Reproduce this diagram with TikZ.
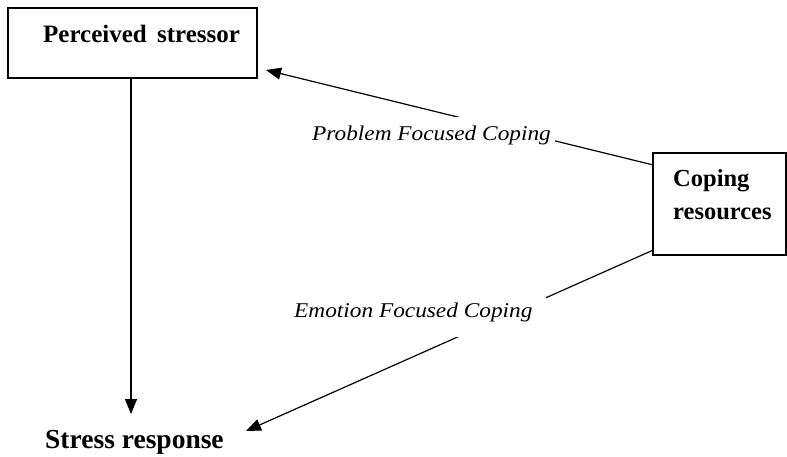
\documentclass[tikz,border=0pt]{standalone}
\usepackage{fontspec}
\setmainfont{Liberation Serif}
\newfontfamily\lblfont[FakeStretch=1.11]{Liberation Serif}
\usetikzlibrary{arrows.meta,calc}
\tikzset{
  boxshape/.style={draw,line width=1.2pt,inner sep=0pt},
  boldtxt/.style={inner sep=0pt,anchor=base west,font=\bfseries\fontsize{#1}{#1}\selectfont},
  conn/.style={line width=1.2pt,-{Triangle[length=15pt,width=12pt]}},
  lbl/.style={fill=white,inner ysep=0pt,anchor=base west,font=\lblfont\itshape\fontsize{21}{24}\selectfont}
}
\begin{document}
\begin{tikzpicture}[x=1pt,y=-1pt]
\useasboundingbox (0,0) rectangle (787,457);
% boxes
\node[boxshape,minimum width=249pt,minimum height=70pt] (ps) at (132.5,43) {};
\node[boxshape,minimum width=133pt,minimum height=102pt] (cr) at (719.5,204) {};
% texts
\node[boldtxt=25] (pst) at (43,43) {Perceived\hspace{4pt} stressor};
\node[boldtxt=24.5] (crt1) at (673,187) {Coping};
\node[boldtxt=24.5] (crt2) at (673,219) {resources};
\node[boldtxt=27.5] (sr) at (45,448) {Stress response};
% connector ends
\coordinate (srtip) at (131,414);
\coordinate (pstip) at (266,70);
\coordinate (srtip2) at (246,431);
% connectors
\draw[conn] (ps.south -| srtip) -- (srtip);
\draw[conn] ($(cr.north west)!0.12!(cr.south west)$) -- (pstip);
\draw[conn] ($(cr.north west)!0.95!(cr.south west)$) -- (srtip2);
% labels
\node[lbl,inner xsep=4pt,text height=24pt,text depth=6pt] (l1) at (308,141) {Problem Focused Coping};
\node[lbl,inner xsep=14pt,text height=20pt,text depth=20pt] (l2) at (280,317) {Emotion Focused Coping};
\end{tikzpicture}
\end{document}
